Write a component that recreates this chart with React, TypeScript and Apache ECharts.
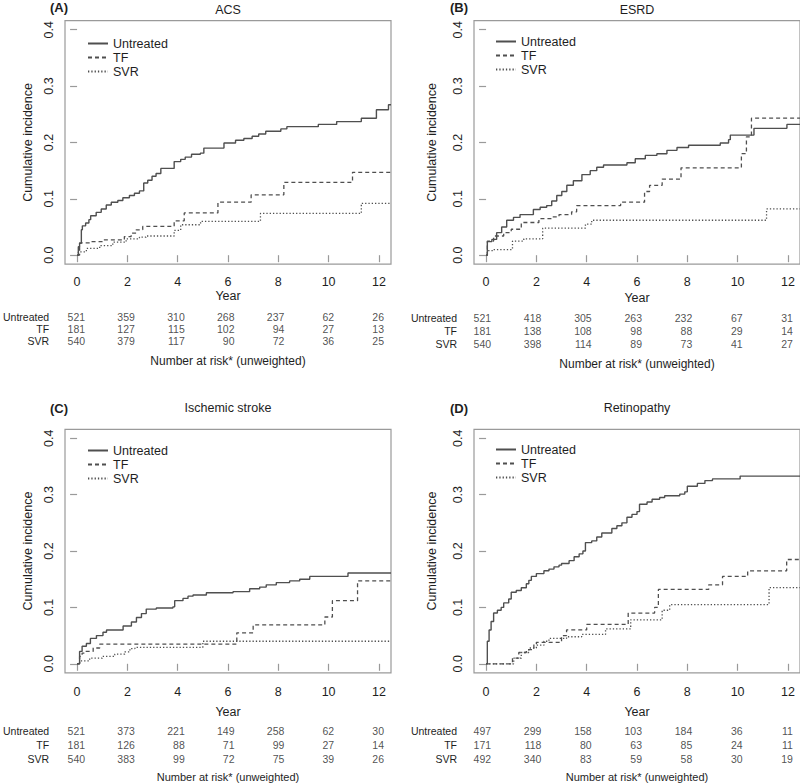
import React, { useEffect, useRef } from 'react';
import * as echarts from 'echarts';

const YEAR_TICKS = [0, 2, 4, 6, 8, 10, 12];
const INC_TICKS = [0, 0.1, 0.2, 0.3, 0.4];
const GROUPS = ['Untreated', 'TF', 'SVR'];

// Cumulative incidence step points [year, value]
const acsUntreated = [[0,0],[0.05,0.015],[0.1,0.021],[0.17,0.045],[0.21,0.052],[0.34,0.057],[0.47,0.063],[0.54,0.07],[0.76,0.076],[0.96,0.082],[1.16,0.089],[1.36,0.094],[1.62,0.097],[1.82,0.102],[2.08,0.106],[2.28,0.11],[2.48,0.114],[2.65,0.128],[2.81,0.133],[2.98,0.14],[3.14,0.145],[3.33,0.154],[3.86,0.166],[4.12,0.17],[4.3,0.174],[4.55,0.179],[4.9,0.181],[5.04,0.19],[5.84,0.199],[6.3,0.204],[6.63,0.207],[6.96,0.211],[7.22,0.215],[7.5,0.22],[8.1,0.224],[8.34,0.228],[9.59,0.232],[10.32,0.237],[11.3,0.243],[11.9,0.258],[12.38,0.267],[12.48,0.267]];
const acsTF = [[0,0],[0.1,0.022],[0.57,0.024],[1.03,0.027],[1.88,0.033],[2.15,0.039],[2.35,0.045],[2.61,0.051],[3.86,0.061],[4.26,0.075],[5.6,0.094],[6.92,0.107],[8.22,0.129],[10.95,0.147],[12.48,0.147]];
const acsSVR = [[0,0],[0.05,0.006],[0.37,0.012],[0.9,0.017],[1.42,0.023],[1.95,0.029],[2.48,0.032],[2.74,0.034],[3.86,0.044],[4.12,0.054],[4.91,0.06],[7.29,0.074],[11.3,0.092],[12.48,0.092]];

const esrdUntreated = [[0,0],[0.05,0.024],[0.23,0.028],[0.42,0.04],[0.62,0.05],[0.82,0.062],[1.09,0.067],[1.35,0.072],[1.88,0.081],[2.15,0.085],[2.41,0.088],[2.61,0.096],[2.81,0.106],[3.01,0.113],[3.21,0.124],[3.47,0.132],[3.81,0.143],[4.14,0.15],[4.4,0.156],[4.67,0.16],[5.6,0.164],[5.93,0.171],[6.33,0.177],[6.79,0.18],[7.19,0.186],[7.59,0.191],[8.05,0.195],[9.31,0.199],[9.64,0.205],[9.71,0.213],[10.65,0.225],[11.96,0.232],[12.48,0.232]];
const esrdTF = [[0,0],[0.05,0.025],[0.3,0.034],[0.7,0.04],[1.0,0.046],[1.4,0.058],[2.1,0.065],[2.6,0.068],[2.9,0.072],[3.4,0.077],[3.6,0.088],[5.35,0.094],[6.3,0.113],[6.5,0.124],[7.0,0.135],[7.75,0.155],[10.15,0.18],[10.35,0.21],[10.55,0.243],[12.48,0.243]];
const esrdSVR = [[0,0],[0.05,0.008],[0.3,0.01],[1.05,0.025],[1.5,0.029],[2.25,0.048],[3.95,0.055],[4.2,0.062],[11.15,0.082],[12.48,0.082]];

const strokeUntreated = [[0,0],[0.1,0.022],[0.2,0.031],[0.37,0.036],[0.53,0.045],[0.77,0.05],[1.03,0.056],[1.17,0.06],[1.83,0.067],[2.16,0.074],[2.36,0.082],[2.56,0.089],[2.75,0.097],[3.15,0.099],[3.81,0.101],[3.88,0.112],[4.21,0.116],[4.41,0.12],[4.61,0.122],[5.14,0.126],[6.2,0.128],[6.86,0.133],[7.26,0.136],[7.52,0.14],[7.92,0.144],[8.45,0.147],[8.85,0.15],[9.25,0.155],[10.77,0.161],[12.48,0.161]];
const strokeTF = [[0,0],[0.1,0.013],[0.2,0.019],[0.35,0.022],[0.64,0.028],[0.9,0.035],[6.35,0.055],[7.0,0.069],[9.85,0.083],[10.15,0.112],[11.15,0.147],[12.48,0.147]];
const strokeSVR = [[0,0],[0.1,0.005],[0.5,0.01],[1.0,0.013],[1.5,0.017],[1.9,0.021],[2.1,0.027],[2.3,0.029],[5.0,0.04],[12.48,0.04]];

const retinoUntreated = [[0,0],[0.05,0.04],[0.12,0.06],[0.2,0.075],[0.3,0.09],[0.45,0.095],[0.6,0.1],[0.7,0.108],[0.9,0.115],[1.0,0.127],[1.2,0.13],[1.4,0.135],[1.6,0.142],[1.7,0.148],[1.8,0.155],[2.0,0.16],[2.3,0.165],[2.5,0.168],[2.7,0.172],[2.9,0.175],[3.0,0.178],[3.3,0.183],[3.5,0.19],[3.7,0.195],[3.85,0.2],[3.95,0.215],[4.2,0.218],[4.4,0.225],[4.6,0.232],[5.0,0.24],[5.2,0.245],[5.4,0.25],[5.6,0.26],[5.8,0.265],[6.0,0.27],[6.1,0.283],[6.4,0.287],[6.6,0.292],[6.9,0.295],[7.1,0.298],[7.7,0.301],[7.9,0.305],[8.0,0.315],[8.4,0.32],[8.7,0.325],[9.0,0.328],[10.1,0.333],[12.48,0.333]];
const retinoTF = [[0,0],[1.05,0.01],[1.3,0.02],[1.6,0.025],[1.9,0.035],[2.0,0.038],[3.0,0.05],[3.2,0.06],[4.0,0.07],[5.65,0.09],[6.7,0.1],[6.85,0.132],[8.85,0.14],[9.4,0.155],[10.4,0.165],[11.95,0.185],[12.48,0.185]];
const retinoSVR = [[0,0],[1.1,0.01],[1.4,0.02],[1.7,0.028],[2.0,0.033],[2.3,0.04],[2.5,0.045],[3.2,0.048],[3.8,0.052],[4.75,0.062],[5.75,0.078],[7.0,0.095],[7.3,0.105],[11.25,0.135],[12.48,0.135]];

// Number at risk (unweighted) at YEAR_TICKS
const acsRiskUntreated = [521, 359, 310, 268, 237, 62, 26];
const acsRiskTF = [181, 127, 115, 102, 94, 27, 13];
const acsRiskSVR = [540, 379, 117, 90, 72, 36, 25];
const esrdRiskUntreated = [521, 418, 305, 263, 232, 67, 31];
const esrdRiskTF = [181, 138, 108, 98, 88, 29, 14];
const esrdRiskSVR = [540, 398, 114, 89, 73, 41, 27];
const strokeRiskUntreated = [521, 373, 221, 149, 258, 62, 30];
const strokeRiskTF = [181, 126, 88, 71, 99, 27, 14];
const strokeRiskSVR = [540, 383, 99, 72, 75, 39, 26];
const retinoRiskUntreated = [497, 299, 158, 103, 184, 36, 11];
const retinoRiskTF = [171, 118, 80, 63, 85, 24, 11];
const retinoRiskSVR = [492, 340, 83, 59, 58, 30, 19];

const PANELS = [
  { letter: '(A)', title: 'ACS', curves: [acsUntreated, acsTF, acsSVR], risk: [acsRiskUntreated, acsRiskTF, acsRiskSVR] },
  { letter: '(B)', title: 'ESRD', curves: [esrdUntreated, esrdTF, esrdSVR], risk: [esrdRiskUntreated, esrdRiskTF, esrdRiskSVR] },
  { letter: '(C)', title: 'Ischemic stroke', curves: [strokeUntreated, strokeTF, strokeSVR], risk: [strokeRiskUntreated, strokeRiskTF, strokeRiskSVR] },
  { letter: '(D)', title: 'Retinopathy', curves: [retinoUntreated, retinoTF, retinoSVR], risk: [retinoRiskUntreated, retinoRiskTF, retinoRiskSVR] },
];

// Layout per panel
const LAYOUT = [
  { left: 65, top: 20.7, letterX: 50, letterY: 7, titleY: 10, legX: 87, legY: 37, legGap: 1, tickMargin: 11, yearGap: 25, tableTop: 311, tableH: 36, rowMargin: 19, narY: 361, narSize: 12, ynameGap: 31 },
  { left: 474, top: 20.7, letterX: 450, letterY: 7, titleY: 10, legX: 495, legY: 35, legGap: 1, tickMargin: 11, yearGap: 27, tableTop: 312, tableH: 38, rowMargin: 17, narY: 364, narSize: 12, ynameGap: 36 },
  { left: 65, top: 429.3, letterX: 50, letterY: 408, titleY: 408, legX: 87, legY: 444, legGap: 1, tickMargin: 13, yearGap: 33, tableTop: 724, tableH: 42, rowMargin: 19, narY: 777, narSize: 11, ynameGap: 31 },
  { left: 474, top: 429.3, letterX: 450, letterY: 408, titleY: 408, legX: 495, legY: 443, legGap: 1, tickMargin: 13, yearGap: 33, tableTop: 724, tableH: 42, rowMargin: 17, narY: 777, narSize: 11, ynameGap: 36 },
];
const PLOT_W = 326;
const PLOT_H = 243.5;
const X_MIN = -0.48;
const X_MAX = 12.48;
const Y_MIN = -0.016;
const Y_MAX = 0.416;

const FONT = 'Liberation Sans, Arial, Helvetica, sans-serif';
const LINE_COLOR = '#4f4f4f';
const BOX_COLOR = '#9a9a9a';
const TEXT_COLOR = '#1e1e1e';
const LINE_TYPES: any[] = ['solid', [4, 3], [1.3, 2]];

export default function App() {
  const ref = useRef<HTMLDivElement>(null);
  useEffect(() => {
    if (!ref.current) return;
    const chart = echarts.init(ref.current, undefined, { renderer: 'svg' });
    const grid: any[] = [];
    const xAxis: any[] = [];
    const yAxis: any[] = [];
    const series: any[] = [];
    const legend: any[] = [];
    const graphic: any[] = [];

    PANELS.forEach((p, i) => {
      const L = LAYOUT[i];
      grid.push({ left: L.left, top: L.top, width: PLOT_W, height: PLOT_H, show: true, borderColor: BOX_COLOR, borderWidth: 1.2, backgroundColor: 'transparent' });
      xAxis.push({
        type: 'value', gridIndex: i, min: X_MIN, max: X_MAX,
        name: 'Year', nameLocation: 'middle', nameGap: L.yearGap,
        nameTextStyle: { fontFamily: FONT, fontSize: 12.5, color: TEXT_COLOR },
        axisLine: { show: false }, splitLine: { show: false },
        axisTick: { show: true, length: 7, lineStyle: { color: BOX_COLOR, width: 1.2 }, customValues: YEAR_TICKS },
        axisLabel: { show: true, margin: L.tickMargin, fontFamily: FONT, fontSize: 12.5, color: TEXT_COLOR, customValues: YEAR_TICKS, formatter: (v: number) => String(v) },
      });
      yAxis.push({
        type: 'value', gridIndex: i, min: Y_MIN, max: Y_MAX,
        name: 'Cumulative incidence', nameLocation: 'middle', nameGap: L.ynameGap,
        nameTextStyle: { fontFamily: FONT, fontSize: 12.5, color: TEXT_COLOR },
        axisLine: { show: false }, splitLine: { show: false },
        axisTick: { show: true, length: 7, lineStyle: { color: BOX_COLOR, width: 1.2 }, customValues: INC_TICKS },
        axisLabel: { show: true, rotate: 90, margin: 10, fontFamily: FONT, fontSize: 12.5, color: TEXT_COLOR, customValues: INC_TICKS, formatter: (v: number) => v.toFixed(1) },
      });
      p.curves.forEach((c, k) => {
        series.push({
          type: 'line', name: GROUPS[k], xAxisIndex: i, yAxisIndex: i, data: c, step: 'end',
          symbol: 'none', showSymbol: false, silent: true,
          lineStyle: { color: LINE_COLOR, width: k === 0 ? 1.4 : 1.3, type: LINE_TYPES[k] },
          itemStyle: { color: LINE_COLOR },
        });
      });
      legend.push({
        show: true, orient: 'vertical', left: L.legX, top: L.legY, data: GROUPS, selectedMode: false,
        itemWidth: 20, itemHeight: 10, itemGap: L.legGap, padding: 0,
        itemStyle: { color: 'rgba(0,0,0,0)', borderColor: 'rgba(0,0,0,0)', borderWidth: 0, opacity: 0 },
        textStyle: { fontFamily: FONT, fontSize: 12.5, color: TEXT_COLOR, lineHeight: 12, padding: [0, 0, 0, 0] },
      });
      graphic.push({ type: 'text', x: L.letterX, y: L.letterY, style: { text: p.letter, font: `bold 13px ${FONT}`, fill: TEXT_COLOR, textAlign: 'left', textVerticalAlign: 'middle' } });
      graphic.push({ type: 'text', x: L.left + PLOT_W / 2, y: L.titleY, style: { text: p.title, font: `12.5px ${FONT}`, fill: TEXT_COLOR, textAlign: 'center', textVerticalAlign: 'middle' } });
      graphic.push({ type: 'text', x: L.left + PLOT_W / 2, y: L.narY, style: { text: 'Number at risk* (unweighted)', font: `${L.narSize}px ${FONT}`, fill: TEXT_COLOR, textAlign: 'center', textVerticalAlign: 'middle' } });
    });

    // Risk tables
    PANELS.forEach((p, i) => {
      const L = LAYOUT[i];
      const gi = 4 + i;
      grid.push({ left: L.left, top: L.tableTop, width: PLOT_W, height: L.tableH, show: false });
      xAxis.push({ type: 'value', gridIndex: gi, min: X_MIN, max: X_MAX, show: false });
      yAxis.push({
        type: 'category', gridIndex: gi, data: GROUPS, inverse: true,
        axisLine: { show: false }, axisTick: { show: false }, splitLine: { show: false },
        axisLabel: { show: true, interval: 0, margin: L.rowMargin, fontFamily: FONT, fontSize: 10.5, color: TEXT_COLOR, align: 'right' },
      });
      const data: any[] = [];
      p.risk.forEach((row, k) => {
        row.forEach((n, j) => data.push([YEAR_TICKS[j], GROUPS[k], n]));
      });
      series.push({
        type: 'scatter', xAxisIndex: gi, yAxisIndex: gi, data, symbolSize: 0, silent: true,
        label: { show: true, position: 'left', distance: 0, offset: [5, 0], fontFamily: FONT, fontSize: 10.5, color: TEXT_COLOR, formatter: (q: any) => String(q.value[2]) },
      });
    });

    chart.setOption({
      animation: false,
      backgroundColor: '#ffffff',
      textStyle: { fontFamily: FONT },
      grid, xAxis, yAxis, series, legend, graphic,
    });
    return () => chart.dispose();
  }, []);
  return <div ref={ref} style={{ position: 'fixed', left: 0, top: 0, width: 800, height: 784 }} />;
}
